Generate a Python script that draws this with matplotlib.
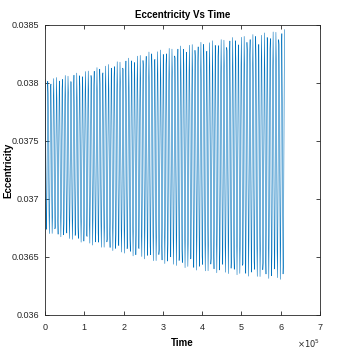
import numpy as np
import matplotlib
matplotlib.use("Agg")
import matplotlib.pyplot as plt
from matplotlib.ticker import FixedLocator

# Envelope of the oscillation
t_knots = [0.0, 1.0e5, 2.67e5, 3.94e5, 6.1e5]
upper_env = [0.03803, 0.03810, 0.03827, 0.03835, 0.03846]
lower_env = [0.03671, 0.03662, 0.03647, 0.03638, 0.03630]
n_cycles = 83
samples_per_cycle = 7.3

x_ticks = [0, 1e5, 2e5, 3e5, 4e5, 5e5, 6e5, 7e5]
x_labels = ["0", "1", "2", "3", "4", "5", "6", "7"]
y_ticks = [0.036, 0.0365, 0.037, 0.0375, 0.038, 0.0385]
y_labels = ["0.036", "0.0365", "0.037", "0.0375", "0.038", "0.0385"]

t_end = t_knots[-1]
n = int(n_cycles * samples_per_cycle)
t = np.linspace(0, t_end, n)
up = np.interp(t, t_knots, upper_env)
lo = np.interp(t, t_knots, lower_env)
mid = (up + lo) / 2
amp = (up - lo) / 2
ecc = mid + amp * np.cos(2 * np.pi * n_cycles * t / t_end)

W = 354.0
FONT = "Liberation Sans"
fig = plt.figure(figsize=(3.54, 3.54), dpi=100)
ax = fig.add_axes([45/W, 1-315/W, 275/W, 290/W])
ax.plot(t, ecc, color="#0072BD", linewidth=0.4)
ax.set_xlim(0, 7e5)
ax.set_ylim(0.036, 0.0385)

ax.xaxis.set_major_locator(FixedLocator(x_ticks))
ax.set_xticklabels(x_labels, fontsize=6.5, family=FONT, color="#262626")
ax.yaxis.set_major_locator(FixedLocator(y_ticks))
ax.set_yticklabels(y_labels, fontsize=6.5, family=FONT, color="#262626")
ax.tick_params(direction="in", length=3, width=0.6, color="#262626",
               top=True, right=True)
ax.tick_params(axis="x", pad=6)
ax.tick_params(axis="y", pad=4)
for s in ax.spines.values():
    s.set_linewidth(0.6)
    s.set_color("#262626")

ax.set_title("Eccentricity Vs Time", fontsize=7, fontweight="bold",
             family=FONT, pad=5)
ax.set_xlabel("Time", fontsize=7, fontweight="bold", family=FONT)
ax.xaxis.set_label_coords(0.5, -(343 - 315) / 290, transform=ax.transAxes)
ax.xaxis.label.set_va("center")
ax.set_ylabel("Eccentricity", fontsize=7, fontweight="bold", family=FONT)
ax.yaxis.set_label_coords(-(45 - 8) / 275, 0.5, transform=ax.transAxes)
ax.yaxis.label.set_va("center")
ax.text(1.0, -(344 - 315) / 290, r"$\times10^5$", transform=ax.transAxes, fontsize=6,
        ha="right", va="center", color="#262626")

fig.savefig("out.png", dpi=100)
